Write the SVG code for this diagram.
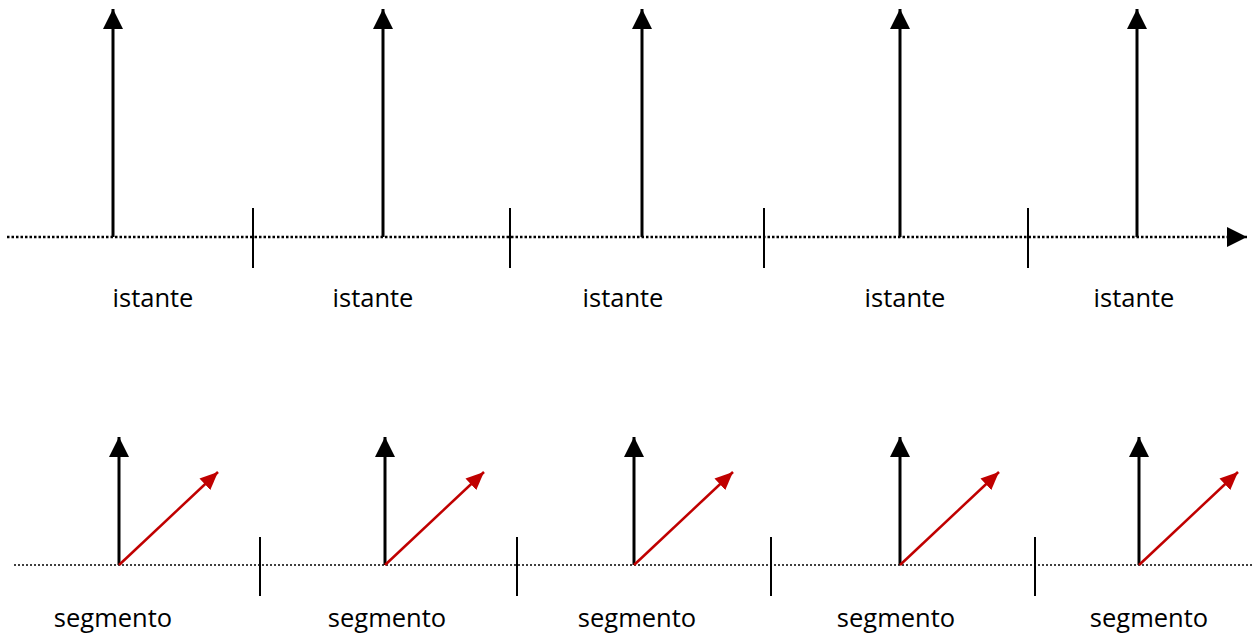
<svg xmlns="http://www.w3.org/2000/svg" width="1254" height="639" viewBox="0 0 1254 639">
<defs>
<marker id="ab" markerUnits="userSpaceOnUse" markerWidth="20" markerHeight="20" refX="16" refY="8" orient="auto" viewBox="0 0 16 16"><path d="M0,0 L16,8 L0,16 Z" fill="#000"/></marker>
<marker id="ar" markerUnits="userSpaceOnUse" markerWidth="18" markerHeight="18" refX="16" refY="7" orient="auto" viewBox="0 0 16 14"><path d="M0,0 L16,7 L0,14 Z" fill="#C00000"/></marker>
<style>
.axis{stroke:#000;stroke-width:2.5;stroke-dasharray:2.5 2;fill:none}
.axis2{stroke:#000;stroke-width:1.5;stroke-dasharray:2 2;fill:none}
.v{stroke:#000;stroke-width:3;fill:none}
.tick{stroke:#000;stroke-width:2;fill:none}
.r{stroke:#C00000;stroke-width:2.5;fill:none}
.lbl{font-family:"Open Sans","Liberation Sans",sans-serif;font-size:25.5px;fill:#000;text-anchor:middle}
</style>
</defs>
<g id="connectors">
<path class="axis" d="M7,237 H1247" marker-end="url(#ab)"/>
<path class="v" d="M113,237 V9" marker-end="url(#ab)"/>
<path class="v" d="M383,237 V9" marker-end="url(#ab)"/>
<path class="v" d="M642,237 V9" marker-end="url(#ab)"/>
<path class="v" d="M900,237 V9" marker-end="url(#ab)"/>
<path class="v" d="M1137,237 V9" marker-end="url(#ab)"/>
<path class="tick" d="M253,208 V268 M510,208 V268 M764,208 V268 M1028,208 V268"/>
<path class="axis2" d="M14,565 H1254"/>
<path class="v" d="M119,565 V437" marker-end="url(#ab)"/>
<path class="v" d="M385,565 V437" marker-end="url(#ab)"/>
<path class="v" d="M634,565 V437" marker-end="url(#ab)"/>
<path class="v" d="M900,565 V437" marker-end="url(#ab)"/>
<path class="v" d="M1139,565 V437" marker-end="url(#ab)"/>
<path class="r" d="M119,565 L218,472" marker-end="url(#ar)"/>
<path class="r" d="M385,565 L484,472" marker-end="url(#ar)"/>
<path class="r" d="M634,565 L733,472" marker-end="url(#ar)"/>
<path class="r" d="M900,565 L999,472" marker-end="url(#ar)"/>
<path class="r" d="M1139,565 L1238,472" marker-end="url(#ar)"/>
<path class="tick" d="M260,537 V596 M517,537 V596 M771,537 V596 M1035,537 V596"/>
</g>
<g id="labels-top">
<text class="lbl" x="153" y="307">istante</text>
<text class="lbl" x="373" y="307">istante</text>
<text class="lbl" x="623" y="307">istante</text>
<text class="lbl" x="905" y="307">istante</text>
<text class="lbl" x="1134" y="307">istante</text>
</g>
<g id="labels-bottom">
<text class="lbl" x="113" y="627">segmento</text>
<text class="lbl" x="387" y="627">segmento</text>
<text class="lbl" x="637" y="627">segmento</text>
<text class="lbl" x="896" y="627">segmento</text>
<text class="lbl" x="1149" y="627">segmento</text>
</g>
</svg>
